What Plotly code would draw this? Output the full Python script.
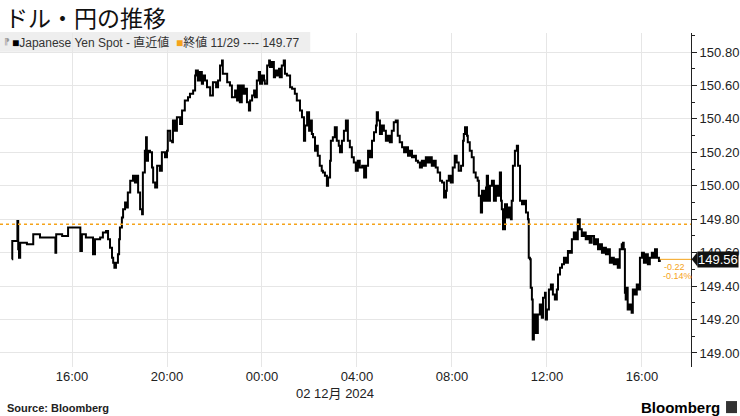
import plotly.graph_objects as go

# ---------------- data ----------------
dec1_times = ["13:28","13:29","13:41","13:42","13:44","13:46","13:49","14:06","14:22","14:39",
              "15:18","15:20","15:35","15:50","16:21","16:25","16:35","16:53","16:58","17:11",
              "17:18","17:26","17:31","17:36","17:41","17:44","17:47","17:51","17:56","17:59",
              "18:01","18:06","18:09","18:14","18:19","18:21","18:27","18:34","18:39","18:44",
              "18:47","18:52","18:57","18:59","19:04","19:07","19:09","19:12","19:17","19:22",
              "19:25","19:30","19:35","19:42","19:47","19:55","20:00","20:02","20:08","20:13",
              "20:15","20:20","20:25","20:33","20:38","20:45","20:53","20:58","21:06","21:11",
              "21:13","21:18","21:23","21:28","21:31","21:36","21:41","21:49","21:56","22:04",
              "22:09","22:14","22:19","22:21","22:32","22:39","22:44","22:52","22:57","22:59",
              "23:04","23:09","23:14","23:17","23:22","23:27","23:30","23:35","23:40","23:42",
              "23:47","23:52","23:55"]
dec1_prices = [149.56,149.67,149.67,149.79,149.62,149.57,149.66,149.65,149.71,149.69,
               149.60,149.71,149.70,149.75,149.61,149.71,149.69,149.59,149.68,149.69,
               149.72,149.73,149.68,149.63,149.57,149.54,149.51,149.54,149.59,149.68,
               149.75,149.81,149.86,149.90,149.87,149.96,150.03,150.06,150.02,150.06,
               149.96,149.86,149.83,150.08,150.21,150.29,150.15,150.21,150.20,150.11,
               150.02,149.99,150.12,150.09,150.20,150.17,150.21,150.33,150.27,150.26,
               150.39,150.33,150.41,150.37,150.45,150.51,150.53,150.55,150.57,150.66,
               150.69,150.63,150.68,150.61,150.66,150.63,150.59,150.54,150.62,150.59,
               150.63,150.72,150.75,150.67,150.62,150.60,150.53,150.57,150.51,150.60,
               150.50,150.60,150.55,150.58,150.50,150.45,150.51,150.54,150.57,150.53,
               150.63,150.68,150.61]

dec2_times = ["00:00","00:05","00:07","00:13","00:18","00:20","00:25","00:30","00:33","00:38",
              "00:43","00:45","00:50","00:55","00:58","01:03","01:11","01:16","01:23","01:28",
              "01:36","01:41","01:46","01:49","01:54","01:59","02:01","02:06","02:09","02:14",
              "02:19","02:21","02:26","02:31","02:34","02:39","02:44","02:47","02:52","02:54",
              "02:59","03:04","03:09","03:14","03:17","03:22","03:27","03:32","03:37","03:42",
              "03:47","03:52","03:57","04:02","04:07","04:13","04:18","04:23","04:28","04:33",
              "04:38","04:43","04:48","04:50","04:53","04:58","05:03","05:08","05:13","05:18",
              "05:23","05:28","05:33","05:38","05:43","05:48","05:54","05:59","06:04","06:09",
              "06:14","06:19","06:24","06:29","06:34","06:39","06:44","06:49","06:54","06:59",
              "07:04","07:09","07:14","07:19","07:24","07:30","07:35","07:40","07:45","07:47",
              "07:52","07:57","08:02","08:07","08:12","08:17","08:23","08:28","08:30","08:33",
              "08:38","08:40","08:45","08:50","08:55","09:00","09:05","09:08","09:13","09:16",
              "09:21","09:26","09:28","09:31","09:36","09:41","09:46","09:51","09:56","10:01",
              "10:04","10:06","10:09","10:14","10:19","10:24","10:29","10:31","10:34","10:39",
              "10:44","10:47","10:52","10:57","11:02","11:07","11:12","11:14","11:17","11:19",
              "11:22","11:24","11:27","11:29","11:32","11:37","11:42","11:47","11:50","11:55",
              "11:57","12:00","12:05","12:10","12:15","12:20","12:25","12:28","12:33","12:38",
              "12:43","12:48","12:53","12:58","13:03","13:08","13:13","13:18","13:23","13:28",
              "13:33","13:38","13:43","13:48","13:53","13:59","14:04","14:09","14:14","14:19",
              "14:24","14:29","14:34","14:39","14:44","14:49","14:54","14:59","15:04","15:09",
              "15:12","15:14","15:17","15:19","15:22","15:24","15:29","15:34","15:37","15:42",
              "15:47","15:50","15:55","16:00","16:05","16:10","16:15","16:20","16:25","16:30",
              "16:33","16:38","16:43","16:45"]
dec2_prices = [150.66,150.63,150.61,150.72,150.75,150.71,150.74,150.65,150.69,150.66,
               150.70,150.65,150.72,150.75,150.67,150.66,150.59,150.58,150.55,150.51,
               150.45,150.41,150.27,150.36,150.44,150.33,150.39,150.31,150.29,150.21,
               150.24,150.18,150.12,150.09,150.08,150.06,150.00,150.05,150.15,150.27,
               150.29,150.35,150.27,150.24,150.20,150.27,150.33,150.39,150.27,150.23,
               150.17,150.14,150.09,150.15,150.11,150.12,150.05,150.12,150.21,150.17,
               150.27,150.32,150.36,150.44,150.39,150.31,150.36,150.33,150.27,150.30,
               150.26,150.33,150.38,150.39,150.30,150.26,150.23,150.20,150.23,150.18,
               150.21,150.17,150.18,150.15,150.14,150.11,150.15,150.12,150.17,150.14,
               150.17,150.12,150.15,150.11,150.08,150.03,150.02,149.93,149.97,150.03,
               150.06,150.02,150.11,150.18,150.14,150.09,150.12,150.27,150.31,150.35,
               150.30,150.26,150.21,150.17,150.08,150.05,150.03,149.94,149.84,149.97,
               149.91,149.99,150.06,149.91,150.00,150.03,149.91,150.00,149.94,150.08,
               149.91,149.86,149.74,149.89,149.81,149.87,149.80,149.91,150.12,150.21,
               150.24,150.12,149.91,149.89,149.91,149.84,149.80,149.57,149.56,149.39,
               149.32,149.08,149.17,149.23,149.12,149.23,149.29,149.21,149.33,149.36,
               149.20,149.26,149.38,149.41,149.35,149.32,149.38,149.47,149.51,149.53,
               149.57,149.54,149.61,149.60,149.68,149.72,149.68,149.80,149.74,149.70,
               149.72,149.68,149.70,149.66,149.70,149.65,149.68,149.62,149.65,149.60,
               149.63,149.59,149.62,149.54,149.57,149.53,149.56,149.51,149.62,149.65,
               149.66,149.62,149.36,149.32,149.39,149.26,149.29,149.24,149.38,149.35,
               149.41,149.38,149.57,149.60,149.54,149.59,149.53,149.57,149.60,149.57,
               149.62,149.57,149.55,149.56]

prev_close = 149.77
prev_close_label = "終値 11/29 ---- 149.77"
series_label = "Japanese Yen Spot - 直近値"
change_text = "-0.22"
change_pct_text = "-0.14%"
y_ticks = [149.00, 149.20, 149.40, 149.60, 149.80, 150.00, 150.20, 150.40, 150.60, 150.80]
x_start = "2024-12-01 12:58"
x_end = "2024-12-02 18:04"

times = ["2024-12-01 " + t for t in dec1_times] + ["2024-12-02 " + t for t in dec2_times]
prices = dec1_prices + dec2_prices

# ---------------- styling ----------------
ORANGE = "#F5A31A"
FONT = "Liberation Sans, Noto Sans CJK JP, sans-serif"
CJK = "Noto Sans CJK JP, sans-serif"

fig = go.Figure()
fig.add_trace(go.Scatter(x=times, y=prices, mode="lines",
                         line=dict(color="#000000", width=2, shape="hv"),
                         hoverinfo="skip", showlegend=False))

# previous close dotted line
fig.add_hline(y=prev_close, line=dict(color=ORANGE, width=1.5, dash="dot"), layer="above")
# last value level line
fig.add_shape(type="line", xref="x", yref="y", x0=times[-1], x1=x_end,
              y0=prices[-1], y1=prices[-1], line=dict(color=ORANGE, width=1))

# legend box
fig.add_shape(type="rect", xref="paper", yref="paper", x0=0, x1=0.449, y0=0.944, y1=1.003,
              fillcolor="rgba(232,232,232,0.75)", line=dict(width=0), layer="above")

fig.update_layout(
    width=740, height=416,
    margin=dict(l=0, r=49, t=33, b=49),
    plot_bgcolor="white", paper_bgcolor="white",
    font=dict(family=FONT, size=13, color="#222"),
    xaxis=dict(type="date", range=[x_start, x_end], tick0="2024-12-02 00:00",
               dtick=4 * 3600 * 1000, tickformat="%H:%M", showgrid=True,
               gridcolor="#e6e6e6", gridwidth=1, showline=False, zeroline=False,
               ticks="", tickfont=dict(size=13, color="#222")),
    yaxis=dict(side="right", range=[148.916, 150.914], tickvals=y_ticks,
               tickformat=".2f", showgrid=True, gridcolor="#e6e6e6", gridwidth=1,
               showline=True, linecolor="#222", linewidth=1, zeroline=False,
               ticks="outside", ticklen=5, tickcolor="#222",
               minor=dict(dtick=0.1, tick0=149.0, ticks="outside", ticklen=3,
                          tickcolor="#222", showgrid=False),
               tickfont=dict(size=13, color="#222")),
    showlegend=False,
)

annotations = [
    dict(text="ドル・円の推移", xref="paper", yref="paper", x=0.004, y=1.048,
         xanchor="left", yanchor="middle", showarrow=False,
         font=dict(family=CJK, size=23, color="#111")),
    dict(text="⁋", xref="paper", yref="paper", x=0.003, y=0.973,
         xanchor="left", yanchor="middle", showarrow=False,
         font=dict(family="DejaVu Sans", size=9, color="#999")),
    dict(text=("<span style='color:#000'>■</span>" + series_label +
               "  <span style='color:" + ORANGE + "'>■</span>" + prev_close_label),
         xref="paper", yref="paper", x=0.014, y=0.973, xanchor="left", yanchor="middle",
         showarrow=False, font=dict(family=FONT, size=12, color="#333")),
    dict(text="02 12月 2024", xref="paper", yref="paper", x=0.485, y=-0.078,
         xanchor="center", yanchor="middle", showarrow=False,
         font=dict(family=FONT, size=13, color="#222")),
    dict(text="<b>Source: Bloomberg</b>", xref="paper", yref="paper", x=0.007, y=-0.123,
         xanchor="left", yanchor="middle", showarrow=False,
         font=dict(family=FONT, size=11, color="#222")),
    dict(text="<b>Bloomberg</b>", xref="paper", yref="paper", x=1.045, y=-0.12,
         xanchor="right", yanchor="middle", showarrow=False,
         font=dict(family=FONT, size=15, color="#000")),
    dict(text=f"{prices[-1]:.2f}", xref="paper", yref="y", x=1.0, xshift=6,
         y=prices[-1], xanchor="left", yanchor="middle", showarrow=False,
         bgcolor="#111", borderpad=0, font=dict(family=FONT, size=13, color="white")),
    dict(text=change_text, xref="x", yref="y", x=times[-1], y=prices[-1],
         xanchor="left", yanchor="top", yshift=-1, xshift=2, showarrow=False,
         font=dict(family=FONT, size=9, color=ORANGE)),
    dict(text=change_pct_text, xref="x", yref="y", x=times[-1], y=prices[-1],
         xanchor="left", yanchor="top", yshift=-10, xshift=1, showarrow=False,
         font=dict(family=FONT, size=9, color=ORANGE)),
]
fig.update_layout(annotations=annotations)

# pointer triangle of the last-value box
fig.add_shape(type="path", xref="paper", yref="y",
              path=f"M 1.001,{prices[-1]} L 1.0095,{prices[-1] + 0.045} L 1.0095,{prices[-1] - 0.045} Z",
              fillcolor="#111", line=dict(width=0), layer="above")
# Bloomberg logo glyph box
fig.add_shape(type="rect", xref="paper", yref="paper", x0=1.0507, x1=1.0666,
              y0=-0.138, y1=-0.102, fillcolor="#333", line=dict(width=0))

fig.write_html("out.html", config={"displayModeBar": False},
               post_script="document.body.style.margin='0';document.body.style.overflow='hidden';")
